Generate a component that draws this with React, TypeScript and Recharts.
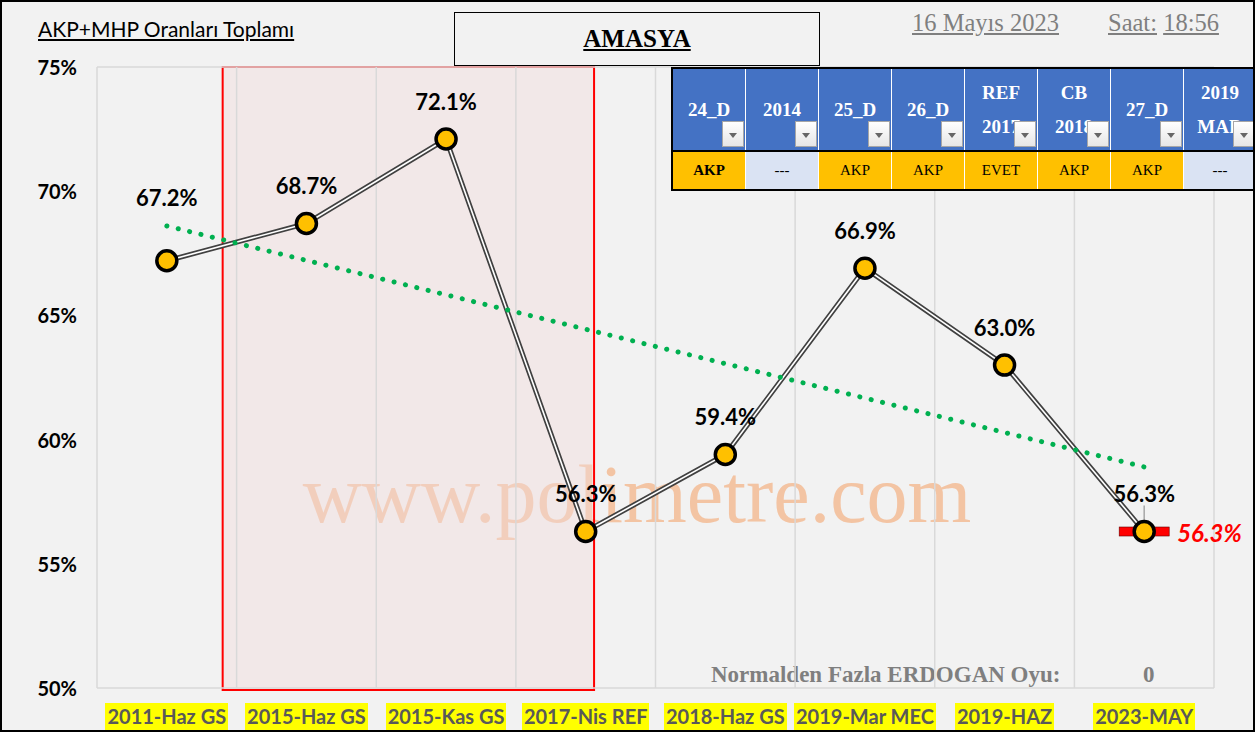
import React from "react";
import {
  LineChart,
  Line,
  XAxis,
  YAxis,
  ReferenceArea,
  ReferenceLine
} from "recharts";

const categories = [
  "2011-Haz GS",
  "2015-Haz GS",
  "2015-Kas GS",
  "2017-Nis REF",
  "2018-Haz GS",
  "2019-Mar MEC",
  "2019-HAZ",
  "2023-MAY"
];
const values = [67.2, 68.7, 72.1, 56.3, 59.4, 66.9, 63.0, 56.3];
// trend line start / end values (first and last category)
const trendEnds = [68.6, 58.9];
const yTicks = [50, 55, 60, 65, 70, 75];
const gridBounds = [-0.5, 0.5, 1.5, 2.5, 3.5, 4.5, 5.5, 6.5, 7.5];

const tableHeaders = [
  ["24_D"],
  ["2014"],
  ["25_D"],
  ["26_D"],
  ["REF", "2017"],
  ["CB", "2018"],
  ["27_D"],
  ["2019", "MAR"]
];
const tableRow = ["AKP", "---", "AKP", "AKP", "EVET", "AKP", "AKP", "---"];

const last = values.length - 1;
const data = categories.map((name, i) => ({
  idx: i,
  name,
  value: values[i],
  trend: i === 0 ? trendEnds[0] : i === last ? trendEnds[1] : null,
  last: i === last ? values[i] : null
}));

const FONT = "Lato, 'Noto Sans', sans-serif";
const SERIF = "'Liberation Serif', 'DejaVu Serif', serif";

const XTick = (props: any) => {
  const { x, y, payload } = props;
  const label = categories[payload.value];
  return (
    <foreignObject x={x - 90} y={y + 7} width={180} height={30}>
      <div style={{ textAlign: "center", lineHeight: "27px" }}>
        <span
          style={{
            background: "#ffff00",
            color: "#595959",
            fontFamily: FONT,
            fontWeight: 700,
            fontSize: 20,
            padding: "0 2px",
            display: "inline-block",
            lineHeight: "27px"
          }}
        >
          {label}
        </span>
      </div>
    </foreignObject>
  );
};

const YTick = (props: any) => {
  const { y, payload } = props;
  return (
    <text
      x={77}
      y={y}
      textAnchor="end"
      dominantBaseline="central"
      fontFamily={FONT}
      fontWeight={700}
      fontSize={20}
      fill="#000"
    >
      {payload.value}%
    </text>
  );
};

const PointDot = (props: any) => {
  const { cx, cy, index } = props;
  if (cx == null || cy == null) return null;
  return (
    <circle
      key={index}
      cx={cx}
      cy={cy}
      r={10}
      fill="#ffc000"
      stroke="#000"
      strokeWidth={3.5}
    />
  );
};

const PointLabel = (props: any) => {
  const { x, y, value, index } = props;
  if (value == null) return null;
  const dy = index === 0 ? -63 : -38;
  return (
    <text
      key={index}
      x={x}
      y={y + dy}
      textAnchor="middle"
      dominantBaseline="central"
      fontFamily={FONT}
      fontWeight={700}
      fontSize={22}
      fill="#000"
    >
      {value.toFixed(1)}%
    </text>
  );
};

const LastMarker = (props: any) => {
  const { cx, cy, payload, index } = props;
  if (cx == null || cy == null || payload.last == null) return null;
  return (
    <g key={index}>
      <line x1={cx} y1={cy - 26} x2={cx} y2={cy} stroke="#a6a6a6" strokeWidth={1.5} />
      <rect
        x={cx - 25}
        y={cy - 4.5}
        width={50}
        height={9}
        fill="#ff0000"
        stroke="#600"
        strokeWidth={0.6}
      />
      <text
        x={cx + 33}
        y={cy + 1}
        dominantBaseline="central"
        fontFamily={FONT}
        fontWeight={700}
        fontStyle="italic"
        fontSize={24}
        fill="#ff0000"
      >
        {payload.last.toFixed(1)}%
      </text>
    </g>
  );
};

function FilterTable() {
  const colW = 73;
  return (
    <div
      style={{
        position: "absolute",
        left: 669,
        top: 65,
        width: colW * 8,
        height: 120,
        border: "2px solid #000",
        background: "#fff",
        display: "flex",
        flexDirection: "column"
      }}
    >
      <div style={{ display: "flex", height: 81, borderBottom: "2px solid #000" }}>
        {tableHeaders.map((lines, i) => (
          <div
            key={i}
            style={{
              position: "relative",
              width: colW - 1,
              marginRight: 1,
              background: "#4472c4",
              color: "#fff",
              fontFamily: SERIF,
              fontWeight: 700,
              fontSize: 19,
              display: "flex",
              flexDirection: "column",
              justifyContent: "center",
              alignItems: "center",
              lineHeight: "34px",
              overflow: "hidden",
              whiteSpace: "nowrap"
            }}
          >
            {lines.map((t, j) => (
              <div key={j}>{t}</div>
            ))}
            <div
              style={{
                position: "absolute",
                right: 1,
                bottom: 3,
                width: 22,
                height: 26,
                background: "linear-gradient(#fff, #e6e6e6)",
                border: "1px solid #a6a6a6",
                boxSizing: "border-box"
              }}
            >
              <div
                style={{
                  position: "absolute",
                  left: 6,
                  top: 11,
                  width: 0,
                  height: 0,
                  borderLeft: "4px solid transparent",
                  borderRight: "4px solid transparent",
                  borderTop: "5px solid #666"
                }}
              />
            </div>
          </div>
        ))}
      </div>
      <div style={{ display: "flex", flex: 1 }}>
        {tableRow.map((t, i) => (
          <div
            key={i}
            style={{
              width: colW - 1,
              marginRight: 1,
              background: t === "---" ? "#dae3f3" : "#ffc000",
              color: "#000",
              fontFamily: SERIF,
              fontWeight: i === 0 ? 700 : 400,
              fontSize: 15,
              display: "flex",
              alignItems: "center",
              justifyContent: "center"
            }}
          >
            {t}
          </div>
        ))}
      </div>
    </div>
  );
}

export default function App() {
  return (
    <div
      style={{
        position: "absolute",
        left: 0,
        top: 0,
        width: 1255,
        height: 732,
        background: "#f2f2f2",
        border: "2px solid #000",
        boxSizing: "border-box",
        overflow: "hidden"
      }}
    >
      <div
        style={{
          position: "absolute",
          left: 36,
          top: 14,
          fontFamily: FONT,
          fontSize: 21,
          textDecoration: "underline",
          color: "#000"
        }}
      >
        AKP+MHP Oranları Toplamı
      </div>
      <div
        style={{
          position: "absolute",
          left: 452,
          top: 10,
          width: 366,
          height: 54,
          border: "1.5px solid #000",
          boxSizing: "border-box",
          display: "flex",
          alignItems: "center",
          justifyContent: "center",
          fontFamily: SERIF,
          fontWeight: 700,
          fontSize: 25,
          textDecoration: "underline",
          background: "#f2f2f2"
        }}
      >
        AMASYA
      </div>
      <div
        style={{
          position: "absolute",
          left: 910,
          top: 7,
          fontFamily: SERIF,
          fontSize: 24.5,
          color: "#7f7f7f",
          textDecoration: "underline"
        }}
      >
        16 Mayıs 2023
      </div>
      <div
        style={{
          position: "absolute",
          left: 1106,
          top: 7,
          fontFamily: SERIF,
          fontSize: 24.5,
          color: "#7f7f7f"
        }}
      >
        <span style={{ textDecoration: "underline" }}>Saat:</span>{" "}
        <span style={{ textDecoration: "underline" }}>18:56</span>
      </div>
      <div
        style={{
          position: "absolute",
          left: 0,
          top: 446,
          width: 1270,
          textAlign: "center",
          fontFamily: SERIF,
          fontSize: 82,
          color: "#f4b183",
          opacity: 0.7
        }}
      >
        www.polimetre.com
      </div>
      <div
        style={{
          position: "absolute",
          left: 709,
          top: 660,
          fontFamily: SERIF,
          fontWeight: 700,
          fontSize: 23,
          color: "#7f7f7f"
        }}
      >
        Normalden Fazla ERDOGAN Oyu:
      </div>
      <div
        style={{
          position: "absolute",
          left: 1141,
          top: 660,
          fontFamily: SERIF,
          fontWeight: 700,
          fontSize: 23,
          color: "#7f7f7f"
        }}
      >
        0
      </div>
      <div style={{ position: "absolute", left: -2, top: -2 }}>
        <LineChart
          width={1255}
          height={732}
          data={data}
          margin={{ top: 67, right: 41, bottom: 0, left: 0 }}
        >
          <XAxis
            dataKey="idx"
            type="number"
            domain={[-0.5, 7.5]}
            ticks={[0, 1, 2, 3, 4, 5, 6, 7]}
            interval={0}
            tick={<XTick />}
            tickLine={false}
            axisLine={false}
            height={44}
          />
          <YAxis
            domain={[50, 75]}
            ticks={yTicks}
            tick={<YTick />}
            tickLine={false}
            axisLine={false}
            width={97}
          />
          <ReferenceArea
            x1={0.4}
            x2={3.06}
            y1={49.92}
            y2={75}
            ifOverflow="visible"
            fill="#f2dcdb"
            fillOpacity={0.45}
            stroke="#ff0000"
            strokeWidth={2}
          />
          {gridBounds.map((b) => (
            <ReferenceLine key={b} x={b} stroke="#d9d9d9" strokeWidth={1.5} />
          ))}
          <ReferenceLine y={75} stroke="#d9d9d9" strokeWidth={1.5} />
          <ReferenceLine y={50} stroke="#d9d9d9" strokeWidth={1.5} />
          <Line
            dataKey="last"
            stroke="none"
            dot={<LastMarker />}
            activeDot={false}
            isAnimationActive={false}
          />
          <Line
            dataKey="value"
            type="linear"
            stroke="#404040"
            strokeWidth={5}
            dot={false}
            activeDot={false}
            isAnimationActive={false}
          />
          <Line
            dataKey="value"
            type="linear"
            stroke="#ffffff"
            strokeWidth={1.6}
            dot={<PointDot />}
            activeDot={false}
            label={<PointLabel />}
            isAnimationActive={false}
          />
          <Line
            dataKey="trend"
            type="linear"
            connectNulls
            stroke="#00b050"
            strokeWidth={5}
            strokeLinecap="round"
            strokeDasharray="0.1 11.6"
            dot={false}
            activeDot={false}
            isAnimationActive={false}
          />
        </LineChart>
      </div>
      <FilterTable />
    </div>
  );
}
